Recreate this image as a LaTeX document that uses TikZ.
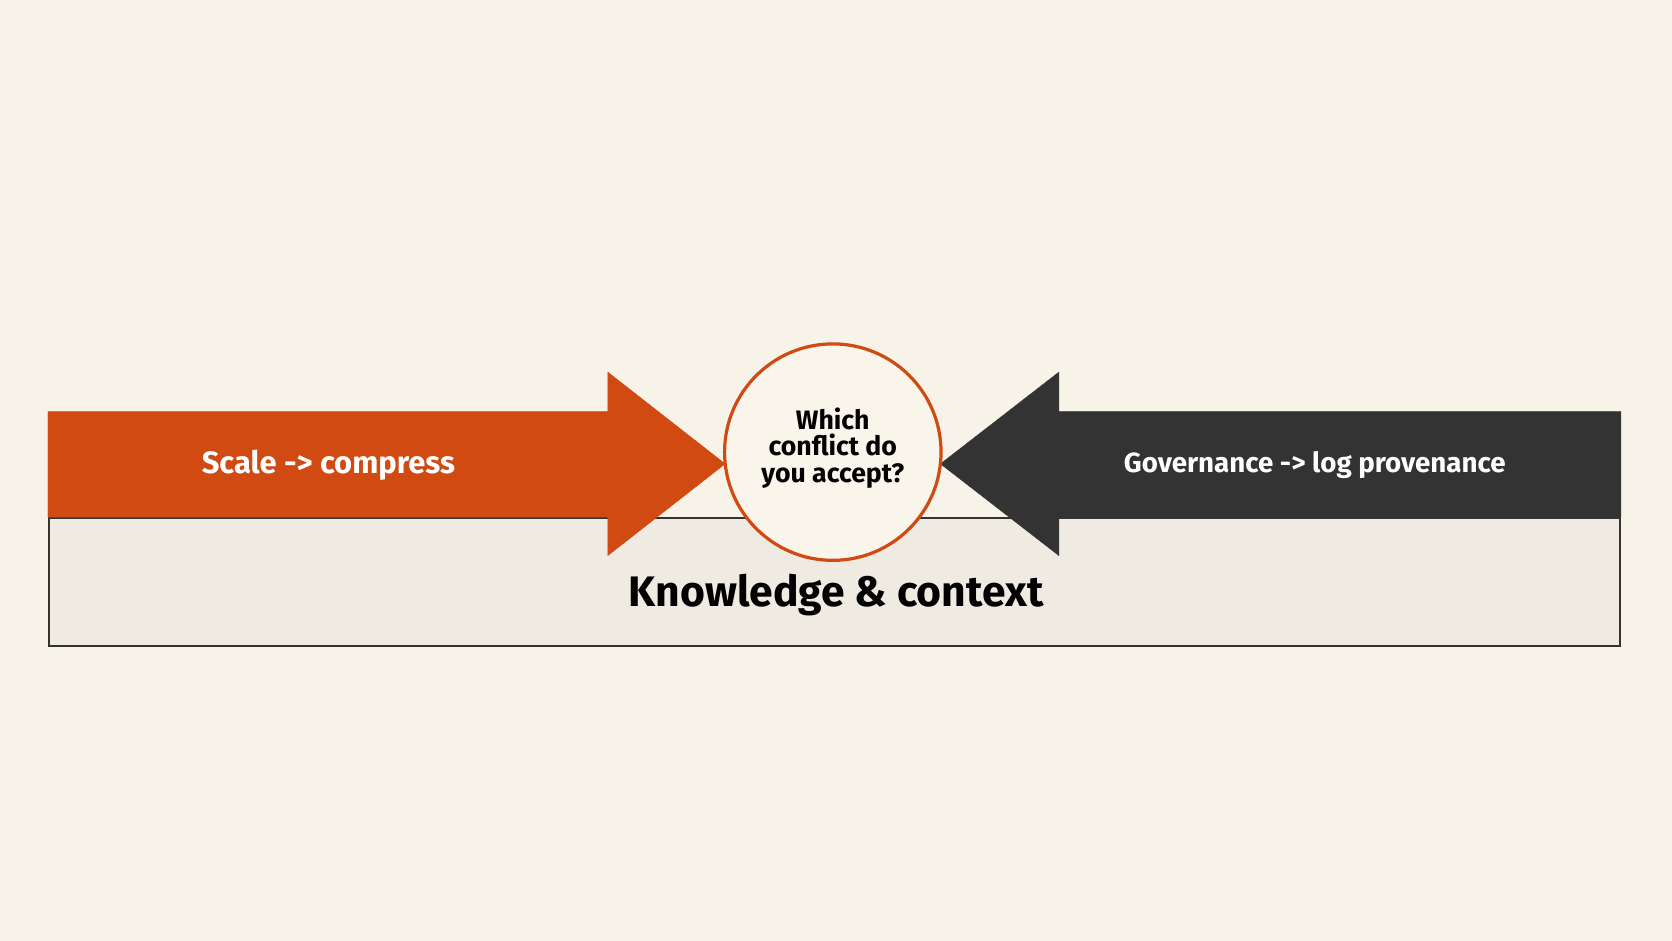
\documentclass[tikz,border=0pt]{standalone}
\usepackage{fontspec}
\setmainfont{Fira Sans}
\begin{document}
\definecolor{bg}{HTML}{F8F3E8}
\definecolor{boxc}{HTML}{EFEBE2}
\definecolor{org}{HTML}{D04A12}
\definecolor{drk}{HTML}{333333}
\definecolor{circ}{HTML}{FAF5EB}
\begin{tikzpicture}[x=1pt,y=-1pt,
  lbl/.style={font=\fontsize{#1}{#1}\selectfont\bfseries}]
\path[fill=bg,use as bounding box] (0,0) rectangle (1568,882);
\node[draw=drk,line width=2pt,fill=boxc,minimum width=1473pt,minimum height=120pt,inner sep=0pt,anchor=north west] (base) at (45,485) {};
\node[lbl=40,text=black] (know) at (784,558) {Knowledge \& context};
\filldraw[fill=org,draw=org] (45,386) -- (570,386) -- (570,349) -- (680,435) -- (570,521) -- (570,485) -- (45,485) -- cycle;
\filldraw[fill=drk,draw=drk] (1520,386) -- (993,386) -- (993,349) -- (882,435) -- (993,521) -- (993,485) -- (1520,485) -- cycle;
\node[lbl=29,text=white] (left) at (308,436) {Scale -> compress};
\node[lbl=26,text=white] (right) at (1233,436) {Governance -> log provenance};
\node[circle,draw=org,line width=3pt,fill=circ,minimum size=203pt] (c) at (781,424) {};
\node[lbl=25,align=center,text=black] (q) at (781,420) {\fontsize{25}{37}\selectfont Which\\conflict do\\you accept?};
\end{tikzpicture}
\end{document}
